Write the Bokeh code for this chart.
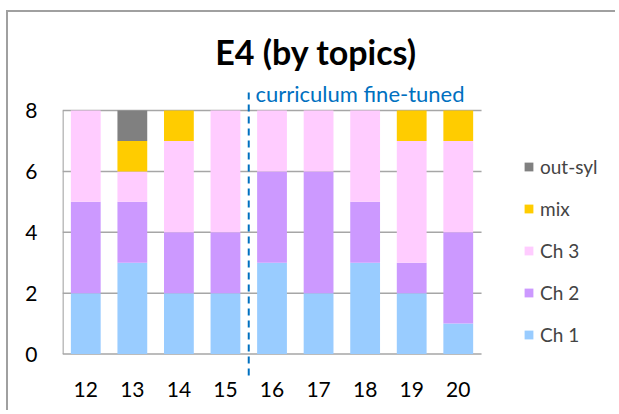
from bokeh.plotting import figure
from bokeh.models import Range1d, FixedTicker, Label, Arrow, Legend, LegendItem, ColumnDataSource
from bokeh.embed import file_html
from bokeh.resources import INLINE

categories = ["12", "13", "14", "15", "16", "17", "18", "19", "20"]
ch1 = [2, 3, 2, 2, 3, 2, 3, 2, 1]
ch2 = [3, 2, 2, 2, 3, 4, 2, 1, 3]
ch3 = [3, 1, 3, 4, 2, 2, 3, 4, 3]
mix = [0, 1, 1, 0, 0, 0, 0, 1, 1]
out_syl = [0, 1, 0, 0, 0, 0, 0, 0, 0]
series = ["Ch 1", "Ch 2", "Ch 3", "mix", "out-syl"]
colors = ["#99CCFF", "#CC99FF", "#FFCCFF", "#FFCC00", "#808080"]
y_ticks = [0, 2, 4, 6, 8]
title_text = "E4 (by topics)"
note_text = "curriculum fine-tuned"
boundary_index = 4  # dashed line between "15" and "16"

FONT = "Lato"
GRID = "#a6a6a6"

xpos = [i + 0.5 for i in range(len(categories))]
source = ColumnDataSource({"x": xpos, "Ch 1": ch1, "Ch 2": ch2, "Ch 3": ch3, "mix": mix, "out-syl": out_syl})

p = figure(x_range=Range1d(0, 11.92), y_range=Range1d(-0.739, 10.957),
           width=609, height=400, output_backend="svg", toolbar_location=None,
           min_border_left=54, min_border_right=0, min_border_top=8, min_border_bottom=36)
p.styles = {"margin-left": "8px", "margin-top": "12px",
            "box-shadow": "-2px -2px 0 0 #a0a0a0"}
p.outline_line_color = None
p.background_fill_color = "white"
p.border_fill_color = "white"
p.xgrid.grid_line_color = None
p.ygrid.grid_line_color = None

# horizontal gridlines and left axis line
n = len(categories)
p.segment(x0=[0] * len(y_ticks), x1=[n] * len(y_ticks), y0=y_ticks, y1=y_ticks,
          line_color=GRID, line_width=1.5)
p.segment(x0=[0.01], y0=[0], x1=[0.01], y1=[max(y_ticks)], line_color=GRID, line_width=1.5)

rs = p.vbar_stack(series, x="x", width=0.64, color=colors, line_color=None, source=source)

p.xaxis.axis_line_color = None
p.yaxis.axis_line_color = None
for ax in (p.xaxis[0], p.yaxis[0]):
    ax.major_tick_in = 0
    ax.major_tick_out = 0
    ax.minor_tick_in = 0
    ax.minor_tick_out = 0
    ax.major_label_text_font = FONT
    ax.major_label_text_font_size = "21px"
    ax.major_label_text_color = "#000000"
p.yaxis.ticker = FixedTicker(ticks=y_ticks, minor_ticks=[])
p.xaxis.ticker = FixedTicker(ticks=xpos, minor_ticks=[])
p.xaxis.major_label_overrides = {x: c for x, c in zip(xpos, categories)}
p.yaxis.major_label_standoff = 25
p.xaxis.major_label_standoff = 5

p.add_layout(Label(x=5.445, y=9.93, text=title_text, text_font=FONT, text_font_size="34px",
                   text_font_style="bold", text_align="center", text_baseline="alphabetic",
                   text_color="#000000"))
p.add_layout(Label(x=4.145, y=8.55, text=note_text, text_font=FONT, text_font_size="22px",
                   text_align="left", text_baseline="middle", text_color="#0070C0"))
p.add_layout(Arrow(end=None, x_start=boundary_index, y_start=-0.707, x_end=boundary_index, y_end=8.59,
                   line_color="#0070C0", line_width=2, line_dash="7 5"))

items = [LegendItem(label=s, renderers=[r]) for s, r in zip(series, rs)][::-1]
legend = Legend(items=items, location=(461, 30), orientation="vertical",
                glyph_width=11, glyph_height=11, label_standoff=6, spacing=19,
                label_height=20, padding=0, margin=0, border_line_color=None,
                background_fill_alpha=0, label_text_font=FONT, label_text_font_size="19px")
p.add_layout(legend)

open("out.html", "w").write(file_html(p, INLINE))
